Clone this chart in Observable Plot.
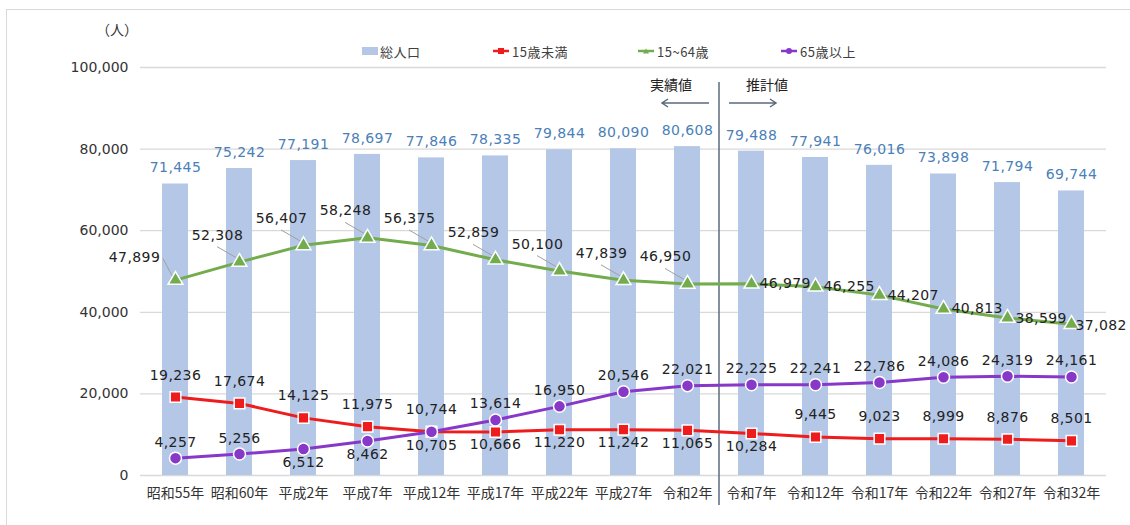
<!DOCTYPE html>
<html>
<head>
<meta charset="utf-8">
<script src="https://cdn.jsdelivr.net/npm/d3@7"></script>
<script src="https://cdn.jsdelivr.net/npm/@observablehq/plot@0.6"></script>
<style>
  html, body { margin: 0; padding: 0; background: #fff; }
  #wrap { position: relative; width: 1130px; height: 525px; overflow: hidden; font-family: "Noto Sans CJK JP", sans-serif; }
  #frame { position: absolute; left: 6px; top: 9px; width: 1300px; height: 700px; border-left: 1px solid #d9d9d9; border-top: 1px solid #d9d9d9; }
  #chart { position: absolute; left: 0; top: 0; }
  #unit { position: absolute; left: 96px; top: 19px; font-size: 14px; color: #333; line-height: 20px; }
  .lg { position: absolute; top: 41px; height: 20px; display: flex; align-items: center; font-size: 13px; color: #404040; letter-spacing: 0.5px; }
  .lg svg { margin-right: 2px; }
  svg g[aria-label^="x-axis"] text { font-family: "Noto Sans CJK JP", sans-serif; }
  svg g[aria-label="text"] text { letter-spacing: 0.4px; }
</style>
</head>
<body>
<div id="wrap">
  <div id="frame"></div>
  <div id="chart"></div>
  <div id="unit">（人）</div>
  <div id="legend"></div>
</div>
<script>
// ---- data ----
const categories = ["昭和55年","昭和60年","平成2年","平成7年","平成12年","平成17年","平成22年","平成27年","令和2年","令和7年","令和12年","令和17年","令和22年","令和27年","令和32年"];
const totalPop   = [71445,75242,77191,78697,77846,78335,79844,80090,80608,79488,77941,76016,73898,71794,69744];
const under15    = [19236,17674,14125,11975,10744,10666,11220,11242,11065,10284,9445,9023,8999,8876,8501];
const age15to64  = [47899,52308,56407,58248,56375,52859,50100,47839,46950,46979,46255,44207,40813,38599,37082];
const over65     = [4257,5256,6512,8462,10705,13614,16950,20546,22021,22225,22241,22786,24086,24319,24161];
const yTicks     = [0,20000,40000,60000,80000,100000];
const seriesNames = ["総人口","15歳未満","15~64歳","65歳以上"];
const lastActual = "令和2年";
const actualLabel = "実績値", projLabel = "推計値";

// ---- styles ----
const C = {bar:"#b4c7e7", barText:"#4a7fb8", red:"#ee1c1c", green:"#72ac4d", purple:"#8838c8", text:"#222", grid:"#d9d9d9", div:"#5b6b7d"};
const numFont = "DejaVu Sans";
const fmt = d3.format(",");

const rows = categories.map((c,i)=>({cat:c, i, total:totalPop[i], u15:under15[i], mid:age15to64[i], o65:over65[i]}));
const nActual = categories.indexOf(lastActual) + 1;
const nLast = categories.length - 1;
const actual = rows.filter(d=>d.i<nActual), proj = rows.filter(d=>d.i>=nActual);
const redBelow = d => d.o65 > d.u15 && d.o65 - d.u15 < 12500;
const purpleBelow = d => d.u15 > d.o65 && d.u15 - d.o65 < 10000;
const G_OFF = [-22,-27], G_FIRST = [-41,-23];

function annotations(index, scales, values, dims) {
  const x = scales.x, bw = x.bandwidth();
  const xa = x(categories[nActual-1]) + bw/2, xb = x(categories[nActual]) + bw/2;
  const xd = (xa + xb) / 2;
  const top = dims.marginTop, bottom = dims.height - dims.marginBottom;
  const g = d3.create("svg:g");
  g.append("line").attr("x1",xd).attr("x2",xd).attr("y1",top+15).attr("y2",bottom+30)
    .attr("stroke",C.div).attr("stroke-width",1.5);
  const ay = top + 36;
  const arr = g.append("g").attr("fill","none").attr("stroke",C.div).attr("stroke-width",1.5);
  arr.append("path").attr("d",`M${xd-10},${ay}H${xd-57}M${xd-51},${ay-4}L${xd-57},${ay}L${xd-51},${ay+4}`);
  arr.append("path").attr("d",`M${xd+10},${ay}H${xd+57}M${xd+51},${ay-4}L${xd+57},${ay}L${xd+51},${ay+4}`);
  const t = g.append("g").attr("font-size",14).attr("fill",C.text).attr("text-anchor","middle")
    .attr("font-family","Noto Sans CJK JP, sans-serif");
  t.append("text").attr("x",xd-48).attr("y",top+18).attr("dy","0.35em").text(actualLabel);
  t.append("text").attr("x",xd+48).attr("y",top+18).attr("dy","0.35em").text(projLabel);
  return g.node();
}

function leaders(index, scales) {
  const x = scales.x, y = scales.y, bw = x.bandwidth();
  const g = d3.create("svg:g").attr("stroke","#a0a0a0").attr("stroke-width",1);
  actual.forEach(d => {
    const px = x(d.cat) + bw/2, py = y(d.mid);
    let x1, y1;
    if (d.i === 0) { x1 = px + G_FIRST[0] + 29; y1 = py + G_FIRST[1] + 2; }
    else { x1 = px + G_OFF[0]; y1 = py + G_OFF[1] + 12; }
    const x2 = px - 3, y2 = py - 4;
    if (Math.hypot(x2-x1, y2-y1) > 8) g.append("line").attr("x1",x1).attr("y1",y1).attr("x2",x2).attr("y2",y2);
  });
  return g.node();
}

const lbl = {fontFamily:numFont, fontSize:14, fill:C.text};

const plot = Plot.plot({
  width: 1130, height: 525,
  marginTop: 67, marginBottom: 50, marginLeft: 140, marginRight: 24,
  style: {fontFamily: "DejaVu Sans, Noto Sans CJK JP, sans-serif", fontSize: "14px", color: "#333", background: "transparent"},
  x: {domain: categories, paddingInner: 0.6, paddingOuter: 0.3, label: null, tickSize: 0, tickPadding: 13},
  y: {domain: [0,100000], ticks: yTicks, tickFormat: d => fmt(d), tickSize: 0, tickPadding: 12, label: null},
  marks: [
    Plot.ruleY(yTicks, {stroke: C.grid, strokeWidth: 1.3}),
    Plot.barY(rows, {x:"cat", y:"total", fill:C.bar}),
    Plot.text(rows, {x:"cat", y:"total", text:d=>fmt(d.total), dy:-16, fontFamily:numFont, fontSize:14, fill:C.barText}),
    annotations,
    Plot.line(rows, {x:"cat", y:"mid", stroke:C.green, strokeWidth:3}),
    Plot.dot(rows, {x:"cat", y:"mid", symbol:"triangle", r:5.5, fill:C.green, stroke:"#fff", strokeWidth:1.5}),
    Plot.line(rows, {x:"cat", y:"u15", stroke:C.red, strokeWidth:3}),
    Plot.dot(rows, {x:"cat", y:"u15", symbol:"square", r:6, fill:C.red, stroke:"#fff", strokeWidth:1.5}),
    Plot.line(rows, {x:"cat", y:"o65", stroke:C.purple, strokeWidth:3}),
    Plot.dot(rows, {x:"cat", y:"o65", symbol:"circle", r:6, fill:C.purple, stroke:"#fff", strokeWidth:1.5}),
    leaders,
    // 15~64 labels
    Plot.text(actual.filter(d=>d.i===0), {x:"cat", y:"mid", text:d=>fmt(d.mid), dx:G_FIRST[0], dy:G_FIRST[1], ...lbl}),
    Plot.text(actual.filter(d=>d.i>0), {x:"cat", y:"mid", text:d=>fmt(d.mid), dx:G_OFF[0], dy:G_OFF[1], ...lbl}),
    Plot.text(proj.filter(d=>d.i<nLast), {x:"cat", y:"mid", text:d=>fmt(d.mid), dx:8, dy:0, textAnchor:"start", ...lbl}),
    Plot.text(proj.filter(d=>d.i===nLast), {x:"cat", y:"mid", text:d=>fmt(d.mid), dx:4, dy:1, textAnchor:"start", ...lbl}),
    // under 15 labels
    Plot.text(rows.filter(d=>!redBelow(d)), {x:"cat", y:"u15", text:d=>fmt(d.u15), dy:-22, ...lbl}),
    Plot.text(rows.filter(redBelow), {x:"cat", y:"u15", text:d=>fmt(d.u15), dy:13, ...lbl}),
    // 65+ labels
    Plot.text(rows.filter(d=>!purpleBelow(d)), {x:"cat", y:"o65", text:d=>fmt(d.o65), dy:-16, ...lbl}),
    Plot.text(rows.filter(purpleBelow), {x:"cat", y:"o65", text:d=>fmt(d.o65), dy:14, ...lbl})
  ]
});
document.getElementById("chart").appendChild(plot);

// ---- legend ----
const legend = document.getElementById("legend");
const lgItems = [
  {name: seriesNames[0], left: 362, kind: "bar", color: C.bar},
  {name: seriesNames[1], left: 492, kind: "square", color: C.red},
  {name: seriesNames[2], left: 637, kind: "triangle", color: C.green},
  {name: seriesNames[3], left: 780, kind: "circle", color: C.purple}
];
lgItems.forEach(it => {
  const div = document.createElement("div");
  div.className = "lg";
  div.style.left = it.left + "px";
  let sw;
  if (it.kind === "bar") {
    sw = `<svg width="16" height="10"><rect x="0" y="1" width="16" height="8" fill="${it.color}"/></svg>`;
  } else {
    let m = "";
    if (it.kind === "square") m = `<rect x="6" y="2" width="6" height="6" fill="${it.color}"/>`;
    if (it.kind === "triangle") m = `<path d="M9,2.5L12,7.5H6Z" fill="${it.color}"/>`;
    if (it.kind === "circle") m = `<circle cx="9" cy="5" r="3" fill="${it.color}"/>`;
    sw = `<svg width="18" height="10"><line x1="1" x2="17" y1="5" y2="5" stroke="${it.color}" stroke-width="2.5"/>${m}</svg>`;
  }
  div.innerHTML = sw + `<span>${it.name}</span>`;
  legend.appendChild(div);
});
</script>
</body>
</html>
